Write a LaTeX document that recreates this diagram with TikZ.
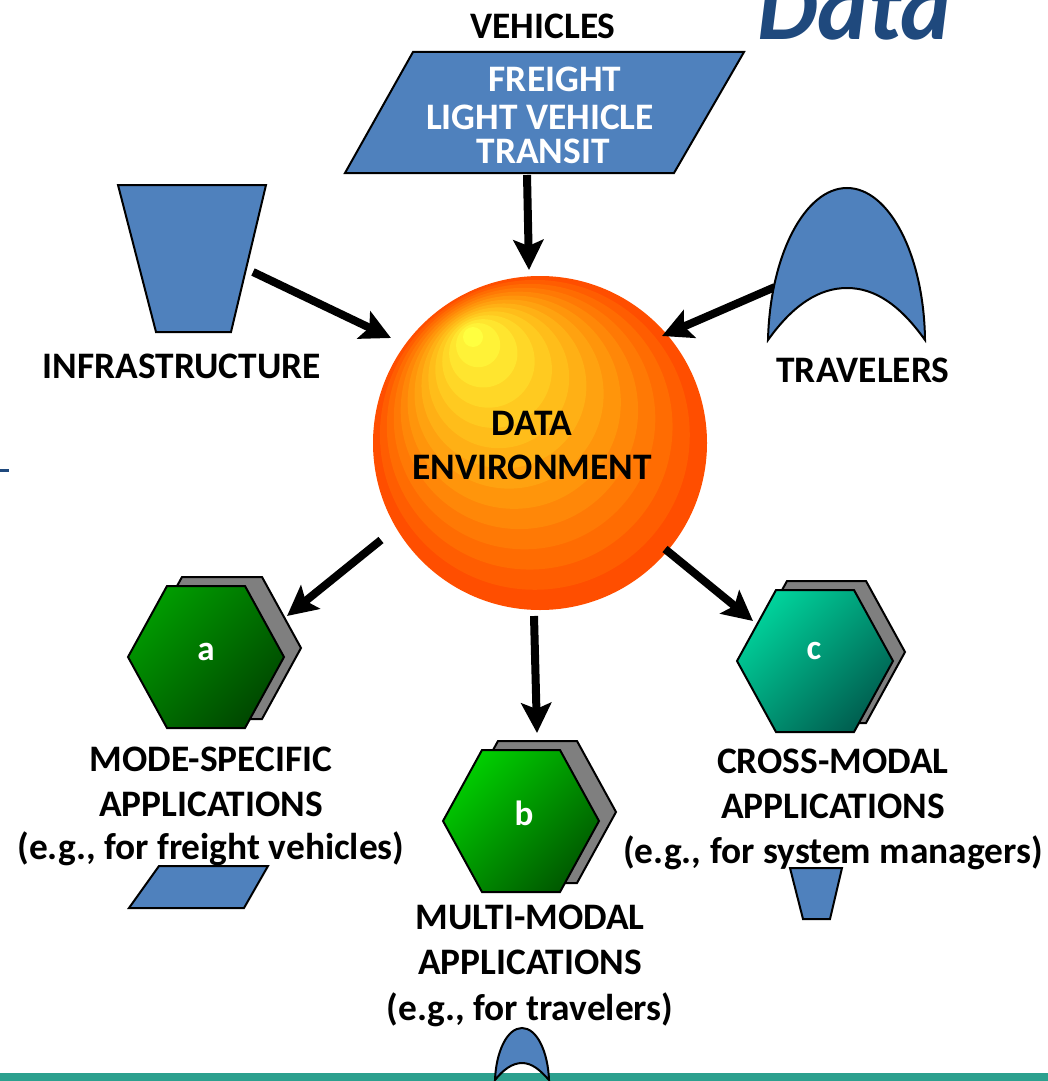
\documentclass[tikz,border=0pt]{standalone}
\usepackage{fontspec}
\setmainfont{Carlito}
\usetikzlibrary{arrows.meta}
\definecolor{shapeblue}{HTML}{4F81BD}
\definecolor{titleblue}{HTML}{1F497D}
\definecolor{barteal}{HTML}{2CA08E}
\definecolor{backgray}{HTML}{7F7F7F}
\tikzset{
  blueshape/.style={fill=shapeblue,draw=black,line width=1pt,line join=miter},
  backhex/.style={fill=backgray,draw=black,line width=1pt},
  fronthex/.style n args={2}{draw=black,line width=1pt,top color=#1,bottom color=#2,shading angle=45},
  lbl/.style={font=\bfseries\fontsize{18.7}{20}\selectfont,text=black,inner sep=0pt,anchor=center},
  hexlbl/.style={font=\bfseries\fontsize{17.5}{19}\selectfont,text=white,inner sep=0pt,anchor=center},
  flow/.style={line width=4pt,-{Stealth[length=15pt,width=15pt,inset=3pt]}},
}
\definecolor{hexAa}{RGB}{0,155,0}
\definecolor{hexAb}{RGB}{0,72,0}
\definecolor{hexBa}{RGB}{0,205,0}
\definecolor{hexBb}{RGB}{0,90,0}
\definecolor{hexCa}{RGB}{0,210,155}
\definecolor{hexCb}{RGB}{0,95,80}
\begin{document}
\begin{tikzpicture}[x=0.5pt,y=-0.5pt]
\useasboundingbox (0,0) rectangle (1048,1081);
\clip (0,0) rectangle (1048,1081);
% footer band and left tick
\fill[barteal] (0,1073) rectangle (1048,1081);
\fill[titleblue] (0,469) rectangle (9,472);
% title
\node[font=\bfseries\itshape\fontsize{48}{50}\selectfont,text=titleblue,inner sep=0pt,anchor=base] (title) at (854,40) {Data};
% sphere
\foreach \i in {0,...,13}{
  \pgfmathsetmacro{\t}{\i/13}
  \pgfmathsetmacro{\r}{167-157*\t}
  \pgfmathsetmacro{\cx}{540-67*\t}
  \pgfmathsetmacro{\cy}{443-106*\t}
  \pgfmathtruncatemacro{\g}{78+177*\t^0.95}
  \pgfmathtruncatemacro{\b}{10*\t+54*\t*\t}
  \definecolor{bandc}{RGB}{255,\g,\b}
  \fill[bandc] (\cx,\cy) circle[radius=\r*0.5pt];
}
% vehicles
\draw[blueshape] (413,52) -- (744,52) -- (674,173) -- (345,173) -- cycle;
% infrastructure
\draw[blueshape] (118,185) -- (266,185) -- (231,332) -- (156,332) -- cycle;
% connector end points
\coordinate (vehOut) at (527,175);
\coordinate (dataTop) at (529,270);
\coordinate (infOut) at (253,272);
\coordinate (dataNW) at (391,338);
\coordinate (travOut) at (775,287);
\coordinate (dataNE) at (662,336);
\coordinate (dataSW) at (381,540);
\coordinate (hexA) at (287,616);
\coordinate (dataS) at (534,616);
\coordinate (hexB) at (537,733);
\coordinate (dataSE) at (665,549);
\coordinate (hexC) at (753,621);
% hexagons
\draw[backhex] (182,577) -- (262,577) -- (301,648) -- (262,719) -- (182,719) -- (143,648) -- cycle;
\shade[fronthex={hexAa}{hexAb}] (128,657) -- (167,586) -- (245,586) -- (284,657) -- (245,728) -- (167,728) -- cycle;
\draw[backhex] (498,741) -- (577,741) -- (616,812) -- (577,883) -- (498,883) -- (459,812) -- cycle;
\shade[fronthex={hexBa}{hexBb}] (443,821) -- (482,750) -- (560,750) -- (599,821) -- (560,892) -- (482,892) -- cycle;
\draw[backhex] (787,581) -- (866,581) -- (905,652) -- (866,723) -- (787,723) -- (748,652) -- cycle;
\shade[fronthex={hexCa}{hexCb}] (737,661) -- (776,590) -- (854,590) -- (893,661) -- (854,732) -- (776,732) -- cycle;
% connectors
\draw[flow] (vehOut) -- (dataTop);
\draw[flow] (infOut) -- (dataNW);
\draw[flow] (travOut) -- (dataNE);
\draw[flow] (dataSW) -- (hexA);
\draw[flow] (dataS) -- (hexB);
\draw[flow] (dataSE) -- (hexC);
% travelers shape
\draw[blueshape] (768,340) .. controls (770,255) and (805,188) .. (847,188) .. controls (889,188) and (924,255) .. (925,340) .. controls (900,305) and (875,288) .. (847,288) .. controls (819,288) and (793,305) .. (768,340) -- cycle;
% small shapes
\draw[blueshape] (159,866) -- (268,866) -- (244,908) -- (129,908) -- cycle;
\draw[blueshape] (790,868) -- (842,868) -- (830,919) -- (803,919) -- cycle;
\draw[blueshape] (495,1080) .. controls (496,1052) and (507,1028) .. (522,1028) .. controls (537,1028) and (548,1052) .. (549,1080) .. controls (540,1070) and (532,1063) .. (522,1063) .. controls (512,1063) and (503,1070) .. (495,1080) -- cycle;
% labels
\node[lbl] (vehicles) at (543,26) {VEHICLES};
\node[lbl,text=white] (freight) at (555,79) {FREIGHT};
\node[lbl,text=white] (light) at (540,117) {LIGHT VEHICLE};
\node[lbl,text=white] (transit) at (543,151) {TRANSIT};
\node[lbl] (infra) at (182,366) {INFRASTRUCTURE};
\node[lbl] (travelers) at (863,370) {TRAVELERS};
\node[lbl] (dataa) at (532,423) {DATA};
\node[lbl] (envir) at (532,467) {ENVIRONMENT};
\node[hexlbl] (a) at (206,652) {a};
\node[hexlbl] (b) at (524,813) {b};
\node[hexlbl] (c) at (814,651) {c};
\node[lbl] (m1) at (211,759) {MODE-SPECIFIC};
\node[lbl] (m2) at (211,804) {APPLICATIONS};
\node[lbl] (m3) at (211,849) {(e.g., for freight vehicles)};
\node[lbl] (n1) at (530,917) {MULTI-MODAL};
\node[lbl] (n2) at (530,962) {APPLICATIONS};
\node[lbl] (n3) at (530,1010) {(e.g., for travelers)};
\node[lbl] (x1) at (833,761) {CROSS-MODAL};
\node[lbl] (x2) at (833,806) {APPLICATIONS};
\node[lbl] (x3) at (833,853) {(e.g., for system managers)};
\end{tikzpicture}
\end{document}
